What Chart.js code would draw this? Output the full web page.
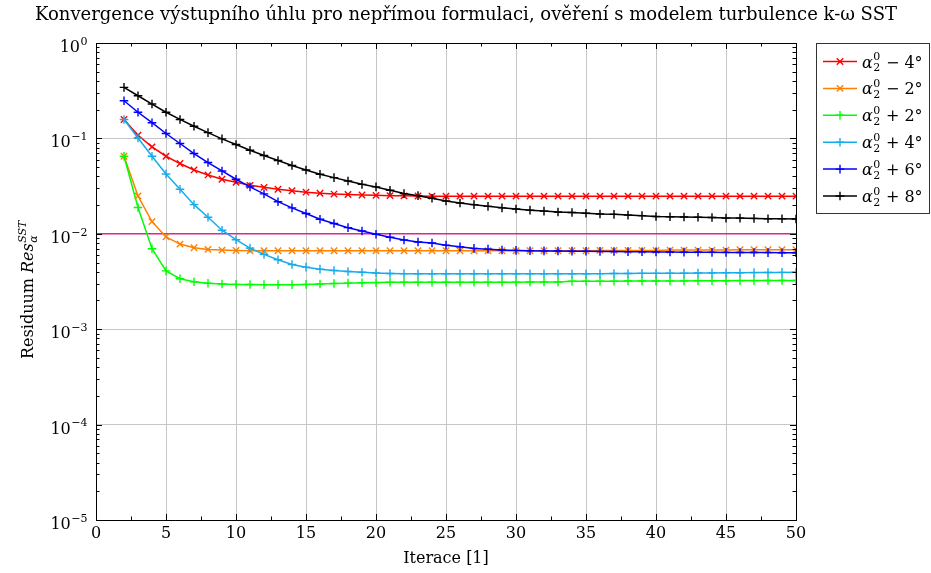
<!DOCTYPE html>
<html>
<head>
<meta charset="utf-8">
<script src="https://cdn.jsdelivr.net/npm/chart.js@4.4.1/dist/chart.umd.min.js"></script>
<style>
  html, body { margin: 0; padding: 0; background: #ffffff; }
  #wrap { width: 931px; height: 573px; }
</style>
</head>
<body>
<div id="wrap"><canvas id="c" width="931" height="573"></canvas></div>
<script>
// Iterations 2..50
const iterations = [2,3,4,5,6,7,8,9,10,11,12,13,14,15,16,17,18,19,20,21,22,23,24,25,26,
  27,28,29,30,31,32,33,34,35,36,37,38,39,40,41,42,43,44,45,46,47,48,49,50];

// Residuum of the outlet angle for each inlet-angle offset
const resMinus4 = [0.158,0.108,0.0814,0.065,0.0545,0.0467,0.0414,0.0373,0.0347,0.0322,0.0307,0.0293,
  0.0283,0.0273,0.0266,0.0261,0.0258,0.0255,0.0253,0.0251,0.0250,0.0249,0.0248,0.0248,0.0248,
  0.0248,0.0248,0.0248,0.0248,0.0248,0.0248,0.0248,0.0248,0.0248,0.0248,0.0248,0.0248,0.0248,
  0.0248,0.0248,0.0248,0.0248,0.0248,0.0248,0.0248,0.0248,0.0248,0.0248,0.0248];
const resMinus2 = [0.065,0.0249,0.0134,0.0093,0.0078,0.00715,0.00686,0.00675,0.00669,0.00665,0.00665,
  0.00665,0.00665,0.00665,0.00665,0.00665,0.00665,0.00665,0.00665,0.00665,0.00665,0.00665,0.00665,
  0.00665,0.00665,0.00665,0.00665,0.00665,0.00665,0.00665,0.00665,0.00665,0.00665,0.00665,0.0067,
  0.0067,0.0067,0.0067,0.0067,0.00675,0.00675,0.00675,0.00675,0.00675,0.0068,0.0068,0.0068,0.0068,0.0068];
const resPlus2 = [0.065,0.0189,0.00697,0.00409,0.00338,0.00314,0.00303,0.00298,0.00295,0.00294,0.00293,
  0.00293,0.00293,0.00295,0.00298,0.00301,0.00304,0.00306,0.00308,0.0031,0.0031,0.0031,0.0031,0.0031,
  0.00311,0.00311,0.00311,0.00311,0.00311,0.00312,0.00312,0.00312,0.00318,0.00318,0.00319,0.00319,
  0.0032,0.0032,0.0032,0.00321,0.00321,0.00322,0.00322,0.00322,0.00323,0.00323,0.00324,0.00324,0.00324];
const resPlus4 = [0.158,0.101,0.065,0.0424,0.0293,0.0202,0.0149,0.0109,0.00867,0.00708,0.00608,0.00535,
  0.00477,0.00447,0.00426,0.00413,0.00403,0.00395,0.00388,0.00384,0.00382,0.00381,0.00381,0.00381,
  0.00381,0.00381,0.00381,0.00381,0.00381,0.00381,0.00381,0.00381,0.00381,0.00381,0.00382,0.00383,
  0.00384,0.00385,0.00385,0.00386,0.00387,0.00388,0.00389,0.0039,0.00391,0.00392,0.00393,0.00394,0.00395];
const resPlus6 = [0.248,0.188,0.146,0.1125,0.0884,0.0694,0.0558,0.0456,0.0373,0.031,0.0262,0.0217,
  0.0187,0.0163,0.0142,0.0128,0.0116,0.0107,0.0099,0.0092,0.0086,0.0082,0.008,0.0076,0.0073,0.00703,
  0.0069,0.00677,0.0067,0.00665,0.00662,0.0066,0.00658,0.00656,0.00654,0.00652,0.0065,0.00648,0.00646,
  0.00644,0.00642,0.0064,0.00639,0.00638,0.00637,0.00636,0.00635,0.00634,0.00633];
const resPlus8 = [0.343,0.28,0.229,0.188,0.158,0.134,0.115,0.0988,0.0863,0.0752,0.0661,0.0586,0.052,
  0.0467,0.0421,0.0388,0.0358,0.033,0.031,0.0286,0.0264,0.0251,0.0236,0.0221,0.021,0.0202,0.0194,
  0.0187,0.0182,0.0177,0.0173,0.0169,0.0167,0.0164,0.0161,0.016,0.0157,0.0155,0.0152,0.0151,0.015,
  0.0149,0.0148,0.0146,0.0146,0.0145,0.0144,0.0144,0.0143];

// Convergence tolerance
const tolerance = 0.01;
const xRange = [0, 50];

const seriesNames = ['\u2212 4\u00b0', '\u2212 2\u00b0', '+ 2\u00b0', '+ 4\u00b0', '+ 6\u00b0', '+ 8\u00b0'];
const seriesValues = [resMinus4, resMinus2, resPlus2, resPlus4, resPlus6, resPlus8];
const seriesColors = ['#ff0000', '#ff8000', '#00ff00', '#16acec', '#0000ff', '#000000'];
const seriesMarkers = ['crossRot', 'crossRot', 'cross', 'cross', 'cross', 'cross'];

const xTicks = [0,5,10,15,20,25,30,35,40,45,50];
const yDecades = [0,-1,-2,-3,-4,-5];

const SERIF = '"DejaVu Serif", "Liberation Serif", serif';
const FS = 16;
const TITLE_FS = 18;

const datasets = seriesValues.map((vals, i) => ({
  label: seriesNames[i],
  data: iterations.map((it, k) => ({ x: it, y: vals[k] })),
  borderColor: seriesColors[i],
  backgroundColor: seriesColors[i],
  borderWidth: 1.5,
  pointStyle: seriesMarkers[i],
  pointRadius: seriesMarkers[i] === 'crossRot' ? 4.5 : 4.3,
  pointBorderWidth: 1.4,
  pointBorderColor: seriesColors[i],
  tension: 0,
  order: 6 - i
}));
datasets.push({
  label: 'tolerance',
  data: [{ x: xRange[0], y: tolerance }, { x: xRange[1], y: tolerance }],
  borderColor: '#e2238c',
  borderWidth: 1.5,
  pointRadius: 0,
  order: 10
});

function isDecade(v) {
  const l = Math.log10(v);
  return Math.abs(l - Math.round(l)) < 1e-9;
}

// lay out a run of text pieces: {t, italic} or {sub, sup}
function mathRun(ctx, pieces, size) {
  const out = [];
  let w = 0;
  for (const p of pieces) {
    if (p.t !== undefined) {
      ctx.font = (p.italic ? 'italic ' : '') + size + 'px ' + SERIF;
      const pw = ctx.measureText(p.t).width;
      out.push({ kind: 't', p, x: w, w: pw });
      w += pw;
    } else {
      const s = Math.round(size * 0.7);
      ctx.font = (p.italic ? 'italic ' : '') + s + 'px ' + SERIF;
      const w1 = p.sub ? ctx.measureText(p.sub).width : 0;
      const w2 = p.sup ? ctx.measureText(p.sup).width : 0;
      const pw = Math.max(w1, w2) + 1;
      out.push({ kind: 's', p, x: w, w: pw, s });
      w += pw;
    }
  }
  return { items: out, width: w };
}
function drawMath(ctx, pieces, size, x, baseline) {
  const run = mathRun(ctx, pieces, size);
  for (const it of run.items) {
    if (it.kind === 't') {
      ctx.font = (it.p.italic ? 'italic ' : '') + size + 'px ' + SERIF;
      ctx.fillText(it.p.t, x + it.x, baseline);
    } else {
      ctx.font = (it.p.italic ? 'italic ' : '') + it.s + 'px ' + SERIF;
      if (it.p.sup) ctx.fillText(it.p.sup, x + it.x + 0.5, baseline - size * 0.45);
      if (it.p.sub) ctx.fillText(it.p.sub, x + it.x + 0.5, baseline + size * 0.22);
    }
  }
  return run.width;
}

const decorations = {
  id: 'decorations',
  afterDatasetsDraw(chart) {
    const ctx = chart.ctx;
    const a = chart.chartArea;
    const xs = chart.scales.x, ys = chart.scales.y;
    ctx.save();
    ctx.fillStyle = '#000';
    ctx.strokeStyle = '#000';
    ctx.lineWidth = 1;

    // inward ticks on all four sides
    ctx.beginPath();
    for (let v = xRange[0]; v <= xRange[1] + 1e-9; v += 2.5) {
      const px = Math.round(xs.getPixelForValue(v)) + 0.5;
      const len = (Math.abs(v % 5) < 1e-9) ? 6 : 3.5;
      ctx.moveTo(px, a.bottom); ctx.lineTo(px, a.bottom - len);
      ctx.moveTo(px, a.top); ctx.lineTo(px, a.top + len);
    }
    for (let e = -5; e <= 0; e++) {
      for (let m = 1; m <= 9; m++) {
        const v = m * Math.pow(10, e);
        if (v > 1) break;
        const py = Math.round(ys.getPixelForValue(v)) + 0.5;
        const len = m === 1 ? 6 : 3.5;
        ctx.moveTo(a.left, py); ctx.lineTo(a.left + len, py);
        ctx.moveTo(a.right, py); ctx.lineTo(a.right - len, py);
      }
    }
    ctx.stroke();

    // frame
    ctx.strokeRect(Math.round(a.left) + 0.5, Math.round(a.top) + 0.5,
      Math.round(a.right - a.left), Math.round(a.bottom - a.top));

    // x tick labels
    ctx.font = FS + 'px ' + SERIF;
    ctx.textAlign = 'center';
    ctx.textBaseline = 'alphabetic';
    for (const v of xTicks) {
      ctx.fillText(String(v), xs.getPixelForValue(v), a.bottom + 18);
    }

    // y tick labels 10^k
    ctx.textAlign = 'left';
    for (const e of yDecades) {
      const py = ys.getPixelForValue(Math.pow(10, e));
      const pieces = [{ t: '10' }, { sup: e === 0 ? '0' : '\u2212' + (-e) }];
      const w = mathRun(ctx, pieces, FS).width;
      drawMath(ctx, pieces, FS, a.left - 8 - w, py + 9);
    }

    // axis titles
    ctx.textAlign = 'center';
    ctx.font = FS + 'px ' + SERIF;
    ctx.fillText('Iterace [1]', (a.left + a.right) / 2, a.bottom + 43);

    ctx.save();
    ctx.translate(33, (a.top + a.bottom) / 2 + 8);
    ctx.rotate(-Math.PI / 2);
    ctx.textAlign = 'left';
    const yPieces = [{ t: 'Residuum ' }, { t: 'Res', italic: true }, { sub: '\u03b1', sup: 'SST', italic: true }];
    const yw = mathRun(ctx, yPieces, FS).width;
    drawMath(ctx, yPieces, FS, -yw / 2, 0);
    ctx.restore();

    // title
    ctx.textAlign = 'center';
    ctx.font = TITLE_FS + 'px ' + SERIF;
    ctx.fillText('Konvergence v\u00fdstupn\u00edho \u00fahlu pro nep\u0159\u00edmou formulaci, ov\u011b\u0159en\u00ed s modelem turbulence k-\u03c9 SST',
      466, 20);

    // legend
    const lx = 816.5, ly = 43.5, lw = 113, lh = 170;
    ctx.fillStyle = '#fff';
    ctx.fillRect(lx, ly, lw, lh);
    ctx.strokeStyle = '#333';
    ctx.strokeRect(lx, ly, lw, lh);
    ctx.textAlign = 'left';
    for (let i = 0; i < seriesNames.length; i++) {
      const cy = 61.5 + i * 26.9;
      const col = seriesColors[i];
      ctx.strokeStyle = col;
      ctx.lineWidth = 1.5;
      ctx.beginPath();
      ctx.moveTo(823, cy); ctx.lineTo(857, cy);
      ctx.stroke();
      ctx.lineWidth = 1.4;
      ctx.beginPath();
      const mx = 840;
      if (seriesMarkers[i] === 'cross') {
        ctx.moveTo(mx - 4.3, cy); ctx.lineTo(mx + 4.3, cy);
        ctx.moveTo(mx, cy - 4.3); ctx.lineTo(mx, cy + 4.3);
      } else {
        const d = 4.5 * Math.SQRT1_2;
        ctx.moveTo(mx - d, cy - d); ctx.lineTo(mx + d, cy + d);
        ctx.moveTo(mx - d, cy + d); ctx.lineTo(mx + d, cy - d);
      }
      ctx.stroke();
      ctx.fillStyle = '#000';
      drawMath(ctx, [{ t: '\u03b1', italic: true }, { sub: '2', sup: '0' }, { t: ' ' + seriesNames[i] }], FS, 862, cy + 6);
    }
    ctx.restore();
  }
};

new Chart(document.getElementById('c'), {
  type: 'line',
  data: { datasets },
  options: {
    responsive: false,
    animation: false,
    layout: { padding: { left: 96, right: 135, top: 43, bottom: 53 } },
    plugins: { legend: { display: false }, title: { display: false }, tooltip: { enabled: false } },
    scales: {
      x: {
        type: 'linear', min: xRange[0], max: xRange[1],
        ticks: { display: false, stepSize: 5 },
        grid: {
          drawTicks: false, lineWidth: 1,
          color: c => (c.tick && c.tick.value > xRange[0] && c.tick.value < xRange[1]) ? '#c6c6c6' : 'rgba(0,0,0,0)'
        },
        border: { display: false }
      },
      y: {
        type: 'logarithmic', min: 1e-5, max: 1,
        ticks: { display: false },
        grid: {
          drawTicks: false, lineWidth: 1,
          color: c => (c.tick && isDecade(c.tick.value) && c.tick.value > 1e-5 && c.tick.value < 1) ? '#c6c6c6' : 'rgba(0,0,0,0)'
        },
        border: { display: false }
      }
    }
  },
  plugins: [decorations]
});
</script>
</body>
</html>
